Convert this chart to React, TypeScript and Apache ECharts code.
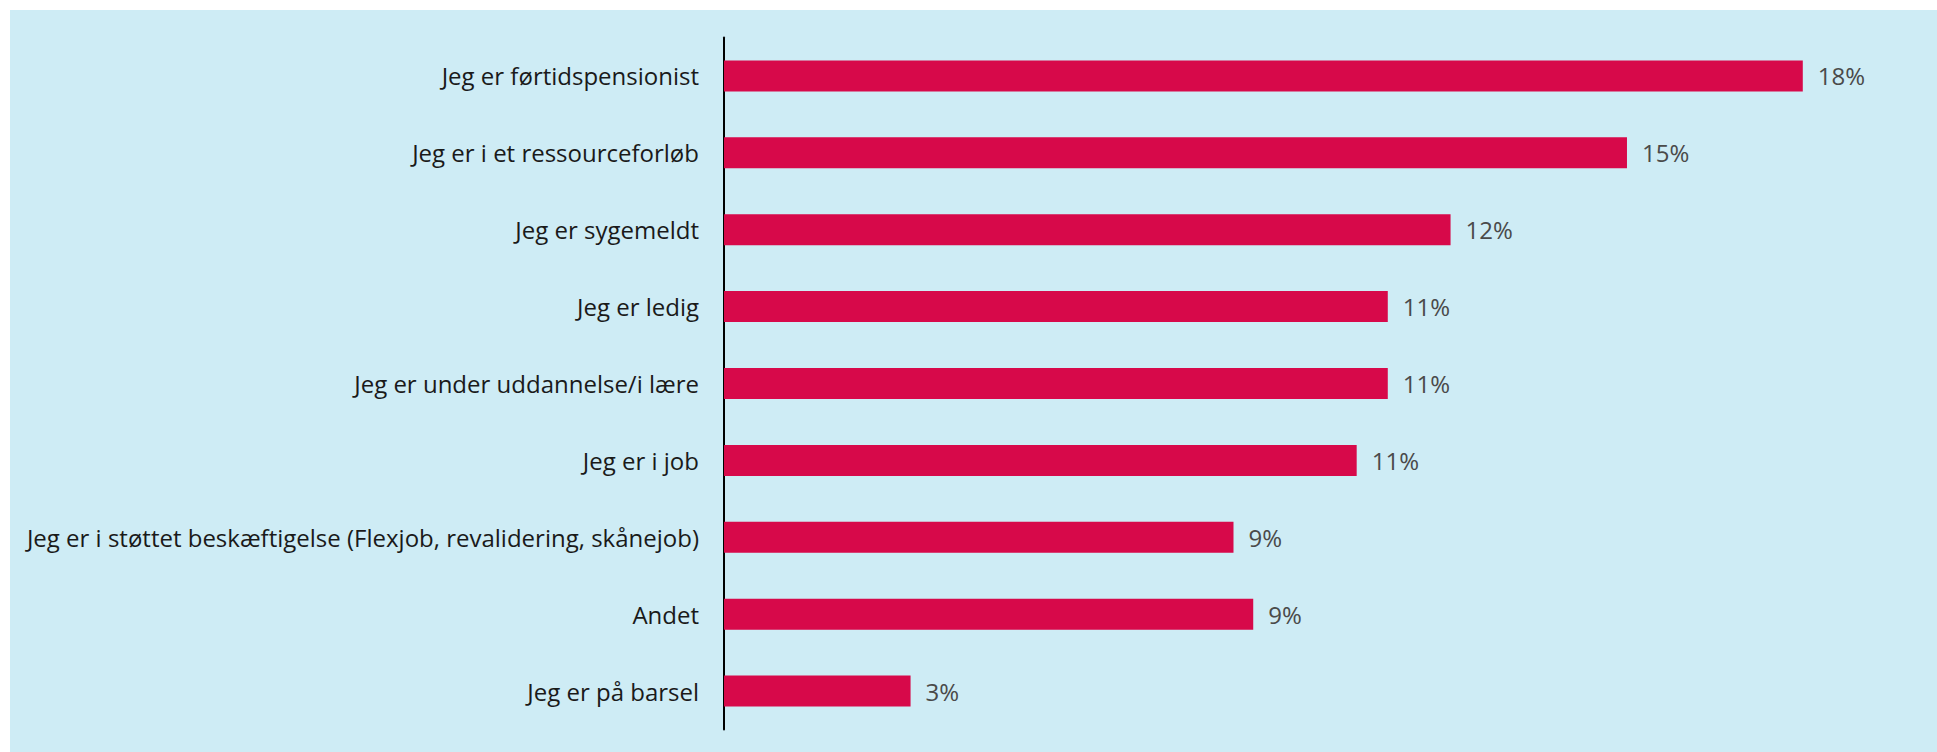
import React, { useEffect, useRef } from "react";
import * as echarts from "echarts";

const categories = [
  "Jeg er førtidspensionist",
  "Jeg er i et ressourceforløb",
  "Jeg er sygemeldt",
  "Jeg er ledig",
  "Jeg er under uddannelse/i lære",
  "Jeg er i job",
  "Jeg er i støttet beskæftigelse (Flexjob, revalidering, skånejob)",
  "Andet",
  "Jeg er på barsel",
];
const values = [18.04, 15.1, 12.15, 11.1, 11.1, 10.58, 8.52, 8.85, 3.12];

export default function App() {
  const ref = useRef<HTMLDivElement>(null);
  useEffect(() => {
    if (!ref.current) return;
    const chart = echarts.init(ref.current, undefined, { renderer: "svg" });
    chart.setOption({
      animation: false,
      backgroundColor: "#ceecf5",
      grid: { left: 714, top: 27.5, width: 1196, height: 692, containLabel: false },
      xAxis: {
        type: "value",
        min: 0,
        max: 20,
        show: false,
      },
      yAxis: {
        type: "category",
        data: categories,
        inverse: true,
        axisLine: { show: true, lineStyle: { color: "#000000", width: 2 } },
        axisTick: { show: false },
        axisLabel: {
          margin: 25,
          color: "#1a1a1a",
          fontFamily: "Open Sans",
          fontSize: 24,
        },
        splitLine: { show: false },
      },
      series: [
        {
          type: "bar",
          data: values,
          barWidth: 31,
          itemStyle: { color: "#d7094a" },
          label: {
            show: true,
            position: "right",
            distance: 15,
            color: "#4a4a4a",
            fontFamily: "Open Sans",
            fontSize: 24,
            formatter: (p: any) => Math.round(p.value) + "%",
          },
        },
      ],
    });
    return () => chart.dispose();
  }, []);
  return (
    <div
      ref={ref}
      style={{ position: "absolute", left: 10, top: 10, width: 1927, height: 742 }}
    />
  );
}
